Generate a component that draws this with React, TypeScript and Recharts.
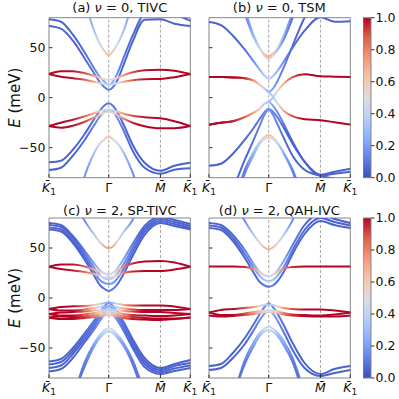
import React from 'react'
import { LineChart, Line, XAxis, YAxis, ReferenceLine, ReferenceArea } from 'recharts'

// k path K1 -> Gamma -> M -> K1 (hexagonal BZ lengths 1, 0.866, 0.5)
const K_PATH = [0, 0.2, 0.4, 0.6, 0.75, 0.85, 0.93, 1.0, 1.07, 1.15, 1.25, 1.4, 1.6, 1.866, 2.1, 2.366]
const K_MAX = 2.366
const K_TICKS = [0, 1, 1.866, 2.366]
const K_LABELS = ['K', 'Γ', 'M', 'K']
const E_TICKS = [-50, 0, 50]
const CBAR_TICKS = [0, 0.2, 0.4, 0.6, 0.8, 1]
const COOLWARM = ['#3b4cc0', '#6282ea', '#8db0fe', '#b8d0f9', '#dddcdc', '#f5c4ac', '#f4987a', '#de604d', '#b40426']

// (a) nu = 0, TIVC
const bandsA = [
  [78.4, 76, 63, 45, 30, 21, 16, 13, 16, 25, 40, 62, 85, 92, 84, 77],
  [71.7, 69, 57, 39, 25, 15.5, 10.5, 8, 10.5, 18, 33, 56, 78, 78.4, 74, 71.7],
  [160, 140, 120, 95, 68, 54, 46.5, 42.7, 46.5, 54, 67, 95, 130, 150, 150, 150],
  [-64.6, -63, -52, -36, -22, -13, -7.5, -5.5, -8, -15, -27, -47, -65, -73, -68, -65],
  [-72.3, -70, -58, -42, -28, -19, -14, -12, -14, -21, -33, -53, -70, -76, -72, -70.6],
  [-160, -140, -120, -78, -56, -46, -41.5, -39, -41.5, -46, -55, -75, -110, -140, -140, -140],
  [23.7, 26.5, 26.5, 24.5, 22, 20, 18.5, 18, 18.5, 20, 22.5, 25.5, 27.5, 28, 27, 23.7],
  [23.7, 21, 19.5, 18, 16, 14.5, 13.5, 13, 13.5, 14.5, 16, 17.5, 18.5, 18.7, 20.5, 23.7],
  [-28.3, -25, -22, -18.5, -15.5, -13.5, -12.3, -12, -12.5, -14, -16, -18, -19.5, -20.6, -23.5, -28.3],
  [-28.3, -30, -28, -24, -20, -17, -15, -14, -15, -17.5, -21, -25, -28.5, -30.6, -30.5, -28.3],
]
const weightsA = [
  [0.05, 0.05, 0.05, 0.08, 0.12, 0.18, 0.22, 0.25, 0.22, 0.15, 0.1, 0.06, 0.05, 0.05, 0.05, 0.05],
  [0.05, 0.05, 0.05, 0.06, 0.08, 0.1, 0.12, 0.12, 0.1, 0.08, 0.06, 0.05, 0.05, 0.05, 0.05, 0.05],
  [0.1, 0.1, 0.1, 0.15, 0.3, 0.45, 0.6, 0.68, 0.6, 0.45, 0.3, 0.15, 0.1, 0.1, 0.1, 0.1],
  [0.05, 0.05, 0.05, 0.06, 0.08, 0.1, 0.1, 0.1, 0.1, 0.08, 0.06, 0.05, 0.05, 0.05, 0.05, 0.05],
  [0.05, 0.05, 0.05, 0.08, 0.12, 0.16, 0.2, 0.2, 0.18, 0.14, 0.1, 0.06, 0.05, 0.05, 0.05, 0.05],
  [0.1, 0.1, 0.1, 0.15, 0.3, 0.45, 0.58, 0.65, 0.58, 0.45, 0.3, 0.15, 0.1, 0.1, 0.1, 0.1],
  [1, 1, 0.98, 0.9, 0.75, 0.6, 0.5, 0.45, 0.5, 0.6, 0.75, 0.9, 0.98, 1, 1, 1],
  [1, 1, 0.98, 0.88, 0.72, 0.55, 0.45, 0.4, 0.42, 0.5, 0.68, 0.88, 0.98, 1, 1, 1],
  [1, 1, 0.97, 0.85, 0.7, 0.55, 0.45, 0.4, 0.45, 0.6, 0.75, 0.9, 0.98, 1, 1, 1],
  [1, 1, 0.98, 0.92, 0.78, 0.62, 0.5, 0.45, 0.5, 0.65, 0.8, 0.95, 1, 1, 1, 1],
]

// (b) nu = 0, TSM
const bandsB = [
  [75.7, 72.5, 62, 48, 36, 28, 22, 19, 21.5, 27, 36, 50, 67, 80.5, 76, 76.5],
  [160, 140, 120, 84, 60, 49, 43.5, 41.4, 44, 50, 62, 85, 120, 150, 150, 150],
  [160, 140, 120, 88, 62, 50, 42, 39, 42, 48, 58, 80, 115, 150, 150, 150],
  [20.7, 20.6, 20.3, 19.5, 17, 13, 9, 5.7, 9, 17, 30, 52, 80, 100, 100, 100],
  [-27, -25, -23.5, -19.5, -15, -11, -6, -4.3, -8, -15, -26, -44, -64, -78, -76, -74],
  [-68, -66, -56, -42, -30, -21, -14.5, -11, -14, -20, -30, -46, -64, -77, -74, -71],
  [-150, -120, -92, -62, -42, -28, -17, -12, -17, -27, -40, -58, -72, -78, -81, -84],
  [-160, -140, -110, -72, -54, -44, -39, -37.3, -39.5, -45, -56, -74, -110, -140, -140, -140],
  [-160, -140, -115, -76, -57, -46, -41.5, -40, -41.5, -46, -55, -72, -105, -140, -140, -140],
  [20.7, 20.6, 20.3, 19.5, 17, 13, 9, 5.7, 1, -6, -13, -18.5, -21.5, -22.6, -24.5, -26.8],
  [-27, -25, -23.5, -19.5, -15, -11, -6, -4.3, 0, 7, 14, 20.5, 23.5, 21.4, 21, 20.7],
]
const weightsB = [
  [0.05, 0.05, 0.05, 0.08, 0.15, 0.25, 0.33, 0.38, 0.33, 0.25, 0.15, 0.08, 0.05, 0.05, 0.05, 0.05],
  [0.1, 0.1, 0.1, 0.12, 0.3, 0.5, 0.65, 0.7, 0.65, 0.5, 0.3, 0.12, 0.1, 0.1, 0.1, 0.1],
  [0.1, 0.1, 0.1, 0.12, 0.28, 0.45, 0.6, 0.66, 0.5, 0.3, 0.15, 0.08, 0.05, 0.05, 0.05, 0.05],
  [1, 1, 1, 0.95, 0.75, 0.55, 0.4, 0.25, 0.2, 0.15, 0.1, 0.08, 0.05, 0.05, 0.05, 0.05],
  [1, 1, 0.97, 0.85, 0.7, 0.55, 0.4, 0.3, 0.2, 0.15, 0.1, 0.06, 0.05, 0.05, 0.05, 0.05],
  [0.05, 0.05, 0.05, 0.06, 0.08, 0.1, 0.13, 0.15, 0.13, 0.1, 0.07, 0.05, 0.05, 0.05, 0.05, 0.05],
  [0.05, 0.05, 0.05, 0.06, 0.08, 0.12, 0.15, 0.18, 0.15, 0.12, 0.08, 0.05, 0.05, 0.05, 0.05, 0.05],
  [0.1, 0.1, 0.1, 0.12, 0.3, 0.45, 0.6, 0.65, 0.6, 0.45, 0.3, 0.12, 0.1, 0.1, 0.1, 0.1],
  [0.1, 0.1, 0.1, 0.12, 0.25, 0.38, 0.5, 0.55, 0.5, 0.38, 0.25, 0.12, 0.1, 0.1, 0.1, 0.1],
  [1, 1, 1, 0.95, 0.75, 0.55, 0.4, 0.3, 0.35, 0.5, 0.7, 0.9, 1, 1, 1, 1],
  [1, 1, 0.97, 0.85, 0.7, 0.55, 0.4, 0.3, 0.35, 0.5, 0.7, 0.9, 1, 1, 1, 1],
]

// (c) nu = 2, SP-TIVC
const bandsC = [
  [75, 73, 62, 47, 35, 28, 24.5, 23, 25, 30, 39, 54, 72, 81, 78, 74],
  [73, 71, 60, 44, 31, 23, 19.5, 19, 20, 25, 34, 50, 69, 79, 76, 72],
  [70.5, 68.5, 57, 41, 27, 18, 15, 14, 15, 20, 29, 46, 66, 77, 74, 70],
  [68.5, 66.5, 55, 38, 23, 13, 9, 7, 9, 14, 24, 42, 63, 75, 72, 68.5],
  [160, 140, 100, 77, 64, 56, 51.5, 49.7, 51.5, 57, 66, 78, 110, 150, 150, 150],
  [-63.5, -61, -50, -35, -23, -14, -8, -5, -8, -14, -24, -41, -60, -70, -66, -62],
  [-66.5, -64, -53, -38, -26, -17, -11, -8, -11, -17, -27, -44, -63, -72, -68, -65],
  [-70, -67.5, -56, -41, -29, -20, -14, -11.5, -14, -20, -30, -47, -66, -74, -70.5, -67.5],
  [-73.5, -71, -60, -44, -32, -23, -16.5, -14, -16.5, -23, -33, -50, -69, -76, -73, -70],
  [-160, -140, -100, -64, -46, -37, -32, -30.3, -32, -37, -45, -62, -95, -140, -140, -140],
  [-160, -140, -100, -68, -49, -40, -35, -33, -35, -40, -48, -66, -100, -140, -140, -140],
  [31.3, 33.5, 33.5, 31.5, 28.5, 26, 24.5, 24, 25, 27.5, 31, 34.5, 36.5, 37, 35.5, 31.3],
  [31.3, 29, 27.5, 26, 24, 22, 20.5, 20, 21, 23, 25, 26.5, 27, 27, 28.5, 31.3],
  [-11, -9, -8.3, -8, -7, -6, -5, -4.5, -5, -6, -7, -7.5, -7.5, -7.5, -8.5, -11],
  [-11, -12.5, -12.5, -11.5, -10, -9, -8.5, -8.5, -8.5, -9.5, -10.5, -11.5, -12, -12, -12, -11],
  [-16, -14.5, -14, -13.5, -12.5, -12, -11.5, -11.5, -11.5, -12, -13, -13.5, -14, -14, -15, -16],
  [-16, -17.5, -17.5, -16.5, -15, -14, -13.5, -13, -13.5, -14.5, -16, -17, -17.5, -18, -17.5, -16],
  [-19.5, -18.5, -19, -18.5, -17, -16, -15.5, -15, -15.5, -16.5, -18, -19, -20, -20.5, -20.5, -19.5],
  [-19.5, -21, -21, -20, -19, -18, -17.5, -17, -17.5, -18.5, -20, -21, -21.5, -22, -21, -19.5],
]
const weightsC = [
  [0.05, 0.05, 0.06, 0.1, 0.2, 0.32, 0.42, 0.45, 0.42, 0.32, 0.2, 0.1, 0.05, 0.05, 0.05, 0.05],
  [0.05, 0.05, 0.05, 0.08, 0.16, 0.25, 0.32, 0.35, 0.32, 0.25, 0.16, 0.08, 0.05, 0.05, 0.05, 0.05],
  [0.05, 0.05, 0.05, 0.07, 0.1, 0.15, 0.18, 0.2, 0.18, 0.15, 0.1, 0.07, 0.05, 0.05, 0.05, 0.05],
  [0.05, 0.05, 0.05, 0.05, 0.06, 0.08, 0.1, 0.1, 0.1, 0.08, 0.06, 0.05, 0.05, 0.05, 0.05, 0.05],
  [0.1, 0.1, 0.1, 0.15, 0.35, 0.55, 0.7, 0.75, 0.7, 0.55, 0.35, 0.15, 0.1, 0.1, 0.1, 0.1],
  [0.05, 0.05, 0.05, 0.06, 0.08, 0.1, 0.13, 0.15, 0.13, 0.1, 0.08, 0.06, 0.05, 0.05, 0.05, 0.05],
  [0.05, 0.05, 0.05, 0.06, 0.08, 0.1, 0.13, 0.15, 0.13, 0.1, 0.08, 0.06, 0.05, 0.05, 0.05, 0.05],
  [0.05, 0.05, 0.05, 0.06, 0.08, 0.12, 0.16, 0.2, 0.16, 0.12, 0.08, 0.06, 0.05, 0.05, 0.05, 0.05],
  [0.05, 0.05, 0.05, 0.06, 0.1, 0.15, 0.2, 0.25, 0.2, 0.15, 0.1, 0.06, 0.05, 0.05, 0.05, 0.05],
  [0.08, 0.08, 0.08, 0.12, 0.22, 0.35, 0.45, 0.5, 0.45, 0.35, 0.22, 0.12, 0.08, 0.08, 0.08, 0.08],
  [0.08, 0.08, 0.08, 0.1, 0.18, 0.28, 0.36, 0.4, 0.36, 0.28, 0.18, 0.1, 0.08, 0.08, 0.08, 0.08],
  [1, 1, 0.98, 0.88, 0.7, 0.55, 0.5, 0.45, 0.5, 0.6, 0.8, 0.95, 1, 1, 1, 1],
  [1, 1, 0.97, 0.85, 0.7, 0.55, 0.45, 0.4, 0.45, 0.6, 0.8, 0.95, 1, 1, 1, 1],
  [1, 1, 1, 0.85, 0.6, 0.4, 0.3, 0.2, 0.3, 0.45, 0.7, 0.9, 1, 1, 1, 1],
  [1, 1, 1, 0.85, 0.65, 0.45, 0.3, 0.25, 0.3, 0.45, 0.7, 0.9, 1, 1, 1, 1],
  [1, 1, 1, 0.88, 0.68, 0.5, 0.4, 0.35, 0.4, 0.5, 0.72, 0.92, 1, 1, 1, 1],
  [1, 1, 1, 0.9, 0.72, 0.55, 0.48, 0.45, 0.48, 0.58, 0.78, 0.94, 1, 1, 1, 1],
  [1, 1, 1, 0.92, 0.78, 0.62, 0.55, 0.5, 0.55, 0.65, 0.82, 0.95, 1, 1, 1, 1],
  [1, 1, 1, 0.95, 0.85, 0.72, 0.65, 0.6, 0.65, 0.75, 0.88, 0.97, 1, 1, 1, 1],
]

// (d) nu = 2, QAH-IVC
const bandsD = [
  [75, 73, 63, 48, 34, 26, 22.5, 21.5, 23, 28, 37, 53, 73, 84, 79, 75],
  [72.5, 70.5, 60, 44, 30, 22, 18, 17, 18, 22.5, 31, 48, 68, 80, 76, 72.5],
  [70, 68, 57, 40, 25, 16, 12.5, 11.3, 12.5, 17, 26, 44, 64, 77, 73, 70],
  [160, 140, 100, 77, 63, 55, 50.5, 48.7, 50.5, 55, 63, 78, 110, 150, 150, 150],
  [-68, -66, -55, -40, -26, -16, -9, -5.3, -9, -16, -27, -45, -65, -76, -71, -68],
  [-72, -70, -60, -46, -32, -22, -15.5, -13, -15.5, -23, -34, -52, -70, -78, -75, -72],
  [-160, -140, -100, -62, -44, -35, -30.5, -29, -30.5, -35, -43, -60, -95, -140, -140, -140],
  [-160, -140, -100, -66, -48, -38, -33.5, -32, -33.5, -38, -47, -64, -100, -140, -140, -140],
  [31.5, 31.5, 31.5, 31, 29, 26, 23, 22, 23, 26, 29.5, 31, 31.5, 31.5, 31.5, 31.5],
  [-14.5, -12, -11, -10, -9, -8, -7, -6.5, -7, -8.5, -10, -11, -11.5, -11.5, -12.5, -14.5],
  [-14.5, -17, -17, -15.5, -14, -13, -12.5, -12, -12.5, -13.5, -15, -16.5, -17, -17.5, -16.5, -14.5],
  [-17.5, -18.5, -18, -17, -16, -15, -14, -13.5, -14, -15, -16.5, -17.5, -18, -18.5, -18.5, -17.5],
]
const weightsD = [
  [0.05, 0.05, 0.06, 0.1, 0.2, 0.32, 0.42, 0.45, 0.42, 0.32, 0.2, 0.1, 0.05, 0.05, 0.05, 0.05],
  [0.05, 0.05, 0.05, 0.08, 0.16, 0.25, 0.32, 0.35, 0.32, 0.25, 0.16, 0.08, 0.05, 0.05, 0.05, 0.05],
  [0.05, 0.05, 0.05, 0.05, 0.06, 0.08, 0.1, 0.1, 0.1, 0.08, 0.06, 0.05, 0.05, 0.05, 0.05, 0.05],
  [0.1, 0.1, 0.1, 0.15, 0.35, 0.52, 0.65, 0.7, 0.65, 0.52, 0.35, 0.15, 0.1, 0.1, 0.1, 0.1],
  [0.05, 0.05, 0.05, 0.06, 0.08, 0.1, 0.13, 0.15, 0.13, 0.1, 0.08, 0.06, 0.05, 0.05, 0.05, 0.05],
  [0.05, 0.05, 0.05, 0.06, 0.1, 0.15, 0.2, 0.25, 0.2, 0.15, 0.1, 0.06, 0.05, 0.05, 0.05, 0.05],
  [0.08, 0.08, 0.08, 0.12, 0.22, 0.32, 0.42, 0.45, 0.42, 0.32, 0.22, 0.12, 0.08, 0.08, 0.08, 0.08],
  [0.08, 0.08, 0.08, 0.1, 0.18, 0.28, 0.36, 0.4, 0.36, 0.28, 0.18, 0.1, 0.08, 0.08, 0.08, 0.08],
  [1, 1, 1, 0.95, 0.75, 0.6, 0.5, 0.45, 0.5, 0.6, 0.8, 0.95, 1, 1, 1, 1],
  [1, 1, 1, 0.9, 0.75, 0.55, 0.4, 0.3, 0.4, 0.55, 0.75, 0.9, 1, 1, 1, 1],
  [1, 1, 1, 0.9, 0.75, 0.6, 0.5, 0.45, 0.5, 0.6, 0.8, 0.92, 1, 1, 1, 1],
  [1, 1, 1, 0.92, 0.8, 0.65, 0.55, 0.5, 0.55, 0.65, 0.82, 0.95, 1, 1, 1, 1],
]

const FONT = 'DejaVu Sans'
const FRAME = '#858585'

function coolwarm(t: number) {
  const v = Math.max(0, Math.min(1, t)) * (COOLWARM.length - 1)
  const i = Math.min(Math.floor(v), COOLWARM.length - 2)
  const f = v - i
  const a = parseInt(COOLWARM[i].slice(1), 16)
  const b = parseInt(COOLWARM[i + 1].slice(1), 16)
  const ch = (s: number) => Math.round(((a >> s) & 255) * (1 - f) + ((b >> s) & 255) * f)
  return `rgb(${ch(16)},${ch(8)},${ch(0)})`
}

function KTick({ x, y, payload }: any) {
  let idx = 0
  K_TICKS.forEach((t, i) => {
    if (Math.abs(t - payload.value) < 1e-6) idx = i
  })
  const name = K_LABELS[idx]
  return (
    <text x={x} y={y} dy={11} textAnchor="middle" fontSize={12.5} fontFamily={FONT} fill="#111">
      {name === 'Γ' ? (
        'Γ\u0304'
      ) : (
        <>
          <tspan fontStyle="italic">{name + '\u0304'}</tspan>
          {name === 'K' && <tspan fontSize={9} dy={3}>1</tspan>}
        </>
      )}
    </text>
  )
}

const fmtE = (v: number) => (v < 0 ? '\u2212' + Math.abs(v) : String(v))

function BandPanel({ id, bands, weights, left, top, width, plotTop, showLabels }: any) {
  const series = bands.map((b: number[]) => K_PATH.map((k, i) => ({ k, e: b[i] })))
  const yW = showLabels ? 40 : 9
  const mLeft = showLabels ? 9 : 0
  return (
    <div style={{ position: 'absolute', left, top }}>
      <LineChart width={width} height={200} margin={{ top: plotTop, right: width - mLeft - yW - 141.3, bottom: 200 - plotTop - 160 - 22, left: mLeft }}>
        <defs>
          {weights.map((w: number[], j: number) => (
            <linearGradient key={j} id={`${id}-${j}`} x1="0" y1="0" x2="1" y2="0">
              {w.map((v, i) => (
                <stop key={i} offset={K_PATH[i] / K_MAX} stopColor={coolwarm(v)} />
              ))}
            </linearGradient>
          ))}
        </defs>
        <XAxis
          type="number"
          dataKey="k"
          domain={[0, K_MAX]}
          ticks={K_TICKS}
          height={22}
          axisLine={false}
          tickSize={-3.5}
          tickMargin={6.5}
          tickLine={{ stroke: '#333' }}
          tick={(p: any) => <KTick {...p} />}
          interval={0}
        />
        <YAxis
          type="number"
          domain={[-80, 80]}
          allowDataOverflow
          ticks={E_TICKS}
          width={yW}
          axisLine={false}
          tickSize={-3.5}
          tickMargin={7}
          tickLine={{ stroke: '#333' }}
          tickFormatter={showLabels ? fmtE : () => ''}
          tick={{ fontSize: 12.5, fill: '#111', fontFamily: FONT }}
        />
        <ReferenceLine x={1} stroke="#9a9a9a" strokeDasharray="3 2" strokeWidth={0.9} />
        <ReferenceLine x={1.866} stroke="#9a9a9a" strokeDasharray="3 2" strokeWidth={0.9} />
        {series.map((d: any[], j: number) => (
          <Line
            key={j}
            data={d}
            dataKey="e"
            type="monotone"
            stroke={`url(#${id}-${j})`}
            strokeWidth={2}
            dot={false}
            activeDot={false}
            isAnimationActive={false}
          />
        ))}
        <ReferenceArea x1={0} x2={K_MAX} y1={-80} y2={80} fill="none" stroke={FRAME} strokeWidth={1} />
      </LineChart>
    </div>
  )
}

function ColorBar({ id, top, plotTop }: any) {
  const rows = CBAR_TICKS.map((v) => ({ x: v, w: v }))
  return (
    <div style={{ position: 'absolute', left: 363, top }}>
      <LineChart width={36} height={200} data={rows} margin={{ top: plotTop, right: 0, bottom: 200 - plotTop - 160, left: 0 }}>
        <defs>
          <linearGradient id={id} x1="0" y1="1" x2="0" y2="0">
            {COOLWARM.map((c, i) => (
              <stop key={i} offset={i / (COOLWARM.length - 1)} stopColor={c} />
            ))}
          </linearGradient>
        </defs>
        <XAxis type="number" dataKey="x" domain={[0, 1]} hide />
        <YAxis
          orientation="right"
          type="number"
          dataKey="w"
          domain={[0, 1]}
          ticks={CBAR_TICKS}
          width={28}
          axisLine={false}
          tickSize={3.5}
          tickMargin={1}
          tickLine={{ stroke: '#333' }}
          tickFormatter={(v: number) => v.toFixed(1)}
          tick={{ fontSize: 12.5, fill: '#111', fontFamily: FONT }}
        />
        <ReferenceArea x1={0} x2={1} y1={0} y2={1} fill={`url(#${id})`} fillOpacity={1} stroke={FRAME} strokeWidth={1} />
      </LineChart>
    </div>
  )
}

export default function App() {
  const titles = [
    { x: 119.8, y: 11.7, tag: '(a) ', n: '0', name: 'TIVC' },
    { x: 279.3, y: 11.7, tag: '(b) ', n: '0', name: 'TSM' },
    { x: 119.8, y: 215, tag: '(c) ', n: '2', name: 'SP-TIVC' },
    { x: 279.3, y: 215, tag: '(d) ', n: '2', name: 'QAH-IVC' },
  ]
  return (
    <div style={{ position: 'absolute', left: 0, top: 0, width: 399, height: 399, background: '#fff', fontFamily: FONT }}>
      <BandPanel id="pa" bands={bandsA} weights={weightsA} left={0} top={0} width={200} plotTop={17.7} showLabels />
      <BandPanel id="pb" bands={bandsB} weights={weightsB} left={200} top={0} width={160} plotTop={17.7} showLabels={false} />
      <BandPanel id="pc" bands={bandsC} weights={weightsC} left={0} top={200} width={200} plotTop={18} showLabels />
      <BandPanel id="pd" bands={bandsD} weights={weightsD} left={200} top={200} width={160} plotTop={18} showLabels={false} />
      <ColorBar id="cb1" top={0} plotTop={17.7} />
      <ColorBar id="cb2" top={200} plotTop={18} />
      <svg width={399} height={399} style={{ position: 'absolute', left: 0, top: 0, pointerEvents: 'none' }}>
        {titles.map((t) => (
          <text key={t.tag} x={t.x} y={t.y} textAnchor="middle" fontSize={13} fontFamily={FONT} fill="#111">
            {t.tag}
            <tspan fontStyle="italic">ν</tspan>
            {' = ' + t.n + ', ' + t.name}
          </text>
        ))}
        {[97.7, 298].map((cy) => (
          <text key={cy} x={20} y={cy} transform={`rotate(-90 20 ${cy})`} textAnchor="middle" fontSize={15} fontFamily={FONT} fill="#111">
            <tspan fontStyle="italic">E</tspan> (meV)
          </text>
        ))}
      </svg>
    </div>
  )
}
